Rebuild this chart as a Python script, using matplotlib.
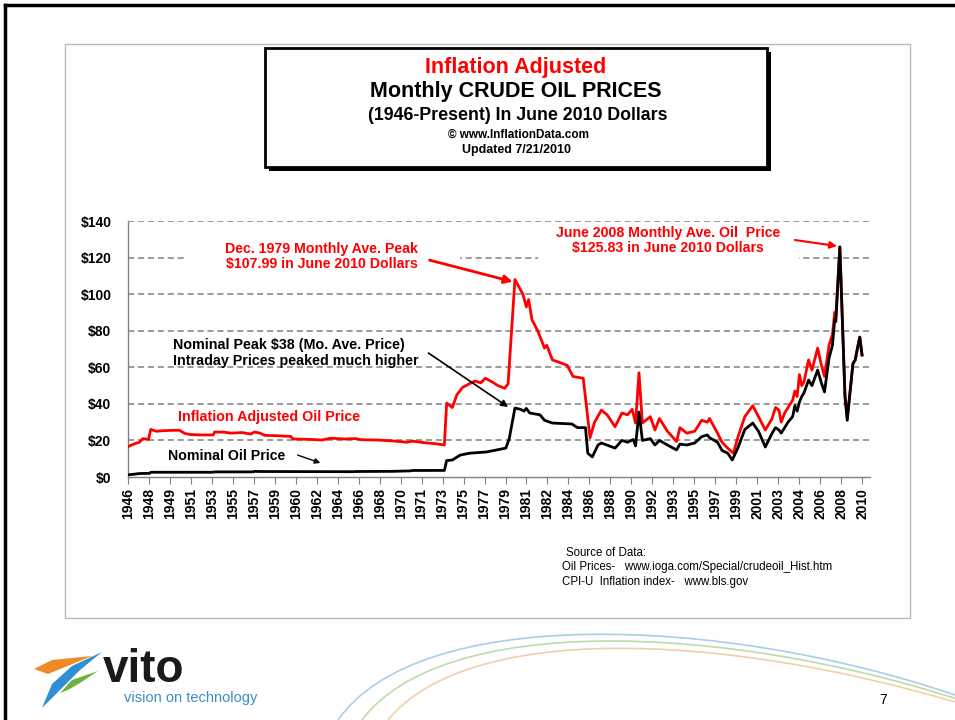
import matplotlib.pyplot as plt
import numpy as np
from matplotlib.patches import Rectangle, Polygon, PathPatch
from matplotlib.path import Path

plt.rcParams['font.family'] = ['Liberation Sans', 'DejaVu Sans']

# Inflation adjusted monthly crude oil price (June 2010 dollars)
real_years = [1946.0, 1946.5, 1947.0, 1947.3, 1947.8, 1948.0, 1948.5, 1949.0, 1949.8, 1950.5,
              1951.0, 1951.5, 1952.5, 1953.5, 1953.6, 1954.5, 1955.0, 1956.0, 1956.8, 1957.1,
              1957.6, 1958.0, 1959.0, 1960.3, 1960.5, 1962.0, 1963.0, 1963.8, 1965.0, 1966.0,
              1966.5, 1968.0, 1969.5, 1970.5, 1971.0, 1972.0, 1973.0, 1973.8, 1974.0, 1974.5,
              1974.9, 1975.4, 1976.0, 1976.5, 1977.0, 1977.4, 1978.0, 1978.5, 1979.1, 1979.4,
              1980.0, 1980.7, 1981.0, 1981.2, 1981.5, 1982.0, 1982.6, 1982.8, 1983.3, 1984.0,
              1984.6, 1985.1, 1986.0, 1986.6, 1987.0, 1987.6, 1988.1, 1988.8, 1989.4, 1989.9,
              1990.3, 1990.6, 1990.9, 1991.2, 1991.9, 1992.3, 1992.7, 1993.4, 1994.2, 1994.5,
              1995.1, 1995.8, 1996.4, 1996.9, 1997.1, 1997.8, 1998.2, 1998.7, 1999.2, 1999.6,
              2000.2, 2000.9, 2001.4, 2002.0, 2002.6, 2002.9, 2003.2, 2003.4, 2003.7, 2004.0,
              2004.4, 2004.6, 2004.8, 2005.0, 2005.2, 2005.4, 2005.8, 2006.1, 2006.6, 2006.9,
              2007.2, 2007.6, 2007.9, 2008.1, 2008.2, 2008.55, 2009.0, 2009.2, 2009.7, 2009.9,
              2010.1, 2010.3, 2010.5]
real_prices = [16.6, 18.0, 19.0, 21.0, 20.5, 26.0, 25.0, 25.3, 25.5, 25.6,
               23.8, 23.2, 23.0, 23.0, 24.6, 24.5, 24.0, 24.3, 23.5, 24.6,
               24.0, 22.8, 22.6, 22.2, 20.8, 20.6, 20.2, 21.2, 20.8, 21.0,
               20.4, 20.2, 19.6, 19.0, 19.6, 18.8, 18.2, 17.5, 40.4, 38.0,
               45.0, 49.0, 51.0, 52.5, 51.5, 54.0, 52.0, 50.0, 48.5, 51.0,
               107.99, 100.0, 93.0, 97.0, 86.0, 80.0, 70.5, 72.0, 64.0, 62.5,
               61.0, 55.0, 54.0, 21.5, 30.0, 36.6, 34.0, 27.5, 35.0, 34.0,
               37.0, 29.5, 57.0, 29.5, 33.0, 25.7, 32.0, 25.0, 19.4, 27.0,
               24.0, 25.0, 31.0, 30.0, 32.0, 24.0, 19.0, 15.7, 13.0, 22.0,
               33.0, 39.0, 33.0, 25.7, 32.0, 38.0, 36.6, 30.0, 35.0, 38.0,
               42.0, 47.0, 44.0, 56.0, 50.0, 52.0, 64.0, 58.5, 70.5, 62.0,
               55.0, 72.0, 78.0, 90.0, 88.0, 125.83, 45.0, 32.0, 62.0, 64.0,
               70.5, 76.5, 66.7]

# Nominal monthly crude oil price
nominal_years = [1946.0, 1946.5, 1947.0, 1947.9, 1948.0, 1953.5, 1953.6, 1957.0, 1957.1, 1957.6,
                 1965.8, 1966.0, 1969.3, 1970.8, 1971.0, 1973.8, 1974.0, 1974.5, 1975.2, 1976.0,
                 1977.5, 1978.4, 1979.2, 1979.5, 1980.0, 1980.5, 1980.8, 1981.0, 1981.3, 1982.2,
                 1982.6, 1983.3, 1985.0, 1985.5, 1986.2, 1986.4, 1986.8, 1987.3, 1987.6, 1988.8,
                 1989.4, 1989.9, 1990.4, 1990.6, 1990.9, 1991.2, 1991.9, 1992.3, 1992.7, 1993.4,
                 1994.2, 1994.5, 1995.1, 1995.8, 1996.4, 1996.9, 1997.1, 1997.8, 1998.2, 1998.7,
                 1999.1, 1999.6, 2000.2, 2000.9, 2001.4, 2002.0, 2002.6, 2002.9, 2003.2, 2003.4,
                 2003.7, 2004.0, 2004.4, 2004.6, 2004.8, 2005.0, 2005.2, 2005.4, 2005.8, 2006.1,
                 2006.6, 2006.9, 2007.2, 2007.6, 2007.9, 2008.1, 2008.2, 2008.55, 2009.0, 2009.2,
                 2009.7, 2009.9, 2010.1, 2010.3, 2010.5]
nominal_prices = [1.2, 1.5, 1.9, 2.0, 2.6, 2.6, 2.8, 2.8, 3.1, 3.0,
                  2.9, 3.0, 3.1, 3.35, 3.56, 3.6, 9.0, 9.3, 12.0, 13.0,
                  13.7, 14.8, 15.8, 21.0, 37.7, 37.0, 36.0, 37.5, 35.0, 34.0,
                  31.0, 29.5, 29.0, 27.0, 27.0, 13.0, 11.0, 17.5, 18.6, 15.8,
                  20.0, 19.0, 20.5, 17.0, 35.5, 20.0, 21.0, 17.5, 20.0, 17.5,
                  14.8, 18.0, 17.5, 18.6, 22.0, 23.0, 21.5, 19.0, 14.5, 13.0,
                  9.3, 16.0, 26.0, 29.5, 25.0, 16.4, 24.0, 27.0, 25.7, 24.0,
                  27.0, 30.0, 33.0, 39.0, 36.0, 41.0, 44.0, 46.0, 53.0, 50.0,
                  58.5, 52.0, 46.5, 65.0, 72.0, 86.0, 85.0, 125.83, 44.0, 31.0,
                  62.0, 64.0, 70.5, 76.5, 66.7]

tick_labels = ['1946', '1948', '1949', '1951', '1953', '1955', '1957', '1959', '1960',
               '1962', '1964', '1966', '1968', '1970', '1971', '1973', '1975', '1977',
               '1979', '1981', '1982', '1984', '1986', '1988', '1990', '1992', '1993',
               '1995', '1997', '1999', '2001', '2003', '2004', '2006', '2008', '2010']
y_ticks = [0, 20, 40, 60, 80, 100, 120, 140]

fig = plt.figure(figsize=(9.55, 7.2), dpi=100)

# slide decoration layer, pixel coordinates
bg = fig.add_axes([0, 0, 1, 1], zorder=0)
bg.set_xlim(0, 955)
bg.set_ylim(720, 0)
bg.axis('off')

bg.plot([5, 5], [5, 720], color='black', lw=2.5)
bg.plot([5, 955], [5, 5], color='black', lw=2.5)
bg.add_patch(Rectangle((65, 44), 845, 574, fill=False, ec='#b8b8b8', lw=1))

# title box with shadow
bg.add_patch(Rectangle((269, 52), 502, 119, fc='black', ec='none'))
bg.add_patch(Rectangle((265, 48), 502, 119, fc='white', ec='black', lw=2))
bg.text(516, 67, 'Inflation Adjusted', color='red', fontsize=15.5, fontweight='bold',
        ha='center', va='center')
bg.text(516, 91, 'Monthly CRUDE OIL PRICES', fontsize=15.5, fontweight='bold',
        ha='center', va='center')
bg.text(518, 116, '(1946-Present) In June 2010 Dollars', fontsize=12.8, fontweight='bold',
        ha='center', va='center')
bg.text(518, 135, '\u00a9 www.InflationData.com', fontsize=8.5, fontweight='bold',
        ha='center', va='center')
bg.text(516, 150, 'Updated 7/21/2010', fontsize=9, fontweight='bold',
        ha='center', va='center')

# source text
bg.text(566, 553, 'Source of Data:', fontsize=8.3, va='center')
bg.text(562, 567, 'Oil Prices-   www.ioga.com/Special/crudeoil_Hist.htm', fontsize=8.3, va='center')
bg.text(562, 582, 'CPI-U  Inflation index-   www.bls.gov', fontsize=8.3, va='center')

# decorative arcs at the bottom
for (x0, y0), c in [((338, 720), '#a8cfe6'), ((362, 720), '#bcdcaa'), ((388, 720), '#f2cfa6')]:
    dy = (x0 - 338) * 0.35
    verts = [(x0, y0), (x0 + 80, 605 + dy), (720, 615 + dy), (955, 695 + dy * 0.4)]
    path = Path(verts, [Path.MOVETO, Path.CURVE4, Path.CURVE4, Path.CURVE4])
    bg.add_patch(PathPatch(path, fill=False, ec=c, lw=1.2))

# vito logo
bg.add_patch(Polygon([(34, 669), (52, 660), (92, 656), (70, 665), (48, 674)], fc='#f08a24', ec='none'))
bg.add_patch(Polygon([(42, 708), (52, 684), (72, 666), (102, 652), (80, 670), (60, 690)],
                     fc='#2f8fd0', ec='none'))
bg.add_patch(Polygon([(60, 693), (72, 680), (98, 671), (80, 683), (68, 690)], fc='#6cb33f', ec='none'))
bg.text(103, 682, 'vito', fontsize=33, fontweight='bold', color='#1a1a1a', va='baseline')
bg.text(124, 698, 'vision on technology', fontsize=10.5, color='#3a8fc0', va='center')
bg.text(883, 700, '7', fontsize=10, ha='center', va='center')

# chart
ax = fig.add_axes([128 / 955, 1 - 477 / 720, 742 / 955, 256 / 720], zorder=2)
ax.patch.set_alpha(0)
ax.set_xlim(1946.0, 2011.2)
ax.set_ylim(0, 140)

ax.set_yticks(y_ticks)
ax.set_yticklabels([f'${v}' for v in y_ticks], fontsize=10, fontweight='bold')
ax.set_xticks(np.linspace(1946.0, 2010.5, len(tick_labels)))
ax.set_xticklabels(tick_labels, rotation=90, fontsize=10, fontweight='bold')
ax.tick_params(axis='x', direction='out', length=5, color='#808080', pad=3)
ax.tick_params(axis='y', length=0, pad=12)

for v in y_ticks[1:]:
    ax.axhline(v, color='#808080', lw=1.1, ls=(0, (4, 2.5)), zorder=0.5)
for s in ['top', 'right']:
    ax.spines[s].set_visible(False)
for s in ['left', 'bottom']:
    ax.spines[s].set_color('#808080')
    ax.spines[s].set_linewidth(1)

# white boxes behind the red annotations break the gridlines
ax.add_patch(Rectangle((1951.2, 113), 24.0, 14, fc='white', ec='none', zorder=1))
ax.add_patch(Rectangle((1982.0, 113), 23.0, 14, fc='white', ec='none', zorder=1))

ax.plot(real_years, real_prices, color='red', lw=2.0, zorder=3)
ax.plot(nominal_years, nominal_prices, color='black', lw=2.0, zorder=4)

ax.text(1963.0, 124.7, 'Dec. 1979 Monthly Ave. Peak', color='red', fontsize=10.2,
        fontweight='bold', ha='center', va='center', zorder=5)
ax.text(1963.0, 116.5, '$107.99 in June 2010 Dollars', color='red', fontsize=10.2,
        fontweight='bold', ha='center', va='center', zorder=5)
ax.annotate('', xy=(1979.8, 106.8), xytext=(1972.5, 118.6), zorder=5,
            arrowprops=dict(arrowstyle='-|>', color='red', lw=2, mutation_scale=12, shrinkA=0, shrinkB=0))

ax.text(1993.45, 133.4, 'June 2008 Monthly Ave. Oil  Price', color='red', fontsize=10.2,
        fontweight='bold', ha='center', va='center', zorder=5)
ax.text(1993.45, 125.2, '$125.83 in June 2010 Dollars', color='red', fontsize=10.2,
        fontweight='bold', ha='center', va='center', zorder=5)
ax.annotate('', xy=(2008.3, 126.3), xytext=(2004.6, 129.6), zorder=5,
            arrowprops=dict(arrowstyle='-|>', color='red', lw=1.5, mutation_scale=10, shrinkA=0, shrinkB=0))

ax.text(1949.95, 72.2, 'Nominal Peak $38 (Mo. Ave. Price)', fontsize=10.3,
        fontweight='bold', va='center', zorder=5)
ax.text(1949.95, 63.4, 'Intraday Prices peaked much higher', fontsize=10.3,
        fontweight='bold', va='center', zorder=5)
ax.annotate('', xy=(1979.4, 38.3), xytext=(1972.4, 67.8), zorder=5,
            arrowprops=dict(arrowstyle='-|>', color='black', lw=1.2, mutation_scale=10, shrinkA=0, shrinkB=0))

ax.text(1950.4, 32.8, 'Inflation Adjusted Oil Price', color='red', fontsize=10.3,
        fontweight='bold', va='center', zorder=5)
ax.text(1949.5, 11.5, 'Nominal Oil Price', fontsize=10.2, fontweight='bold', va='center', zorder=5)
ax.annotate('', xy=(1962.9, 7.7), xytext=(1960.9, 12.0), zorder=5,
            arrowprops=dict(arrowstyle='-|>', color='black', lw=1, mutation_scale=8, shrinkA=0, shrinkB=0))

fig.savefig('out.png', dpi=100)
